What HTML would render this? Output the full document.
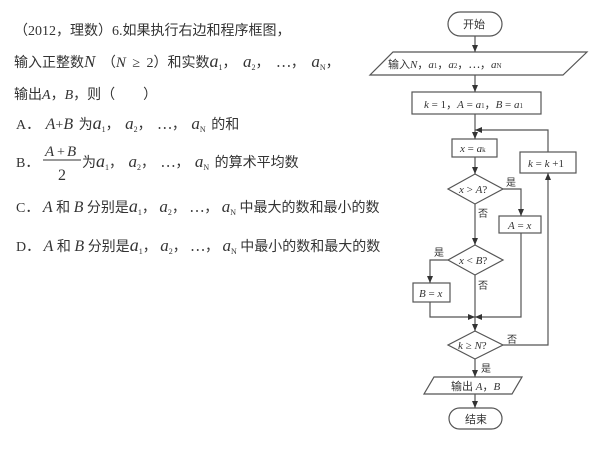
<!DOCTYPE html>
<html><head><meta charset="utf-8"><style>
html,body{margin:0;padding:0;background:#fff;}
svg{display:block;}
text{font-family:"Liberation Serif","Noto Serif CJK SC","Noto Sans CJK SC",serif;fill:#333;}
.c{font-family:"Liberation Serif","Noto Sans CJK SC",sans-serif;}
.i{font-style:italic;}
</style></head><body>
<svg width="600" height="450" viewBox="0 0 600 450" xmlns="http://www.w3.org/2000/svg">
<defs><marker id="a" markerWidth="8" markerHeight="8" refX="7" refY="4" orient="auto" markerUnits="userSpaceOnUse"><path d="M0,1 L7,4 L0,7 Z" fill="#333"/></marker></defs>
<g font-size="14">
<text x="14" y="35" class="c">（2012，理数）6.如果执行右边和程序框图，</text>
<text x="14" y="67" class="c" word-spacing="3">输入正整数<tspan class="i" font-size="17">N</tspan>  （<tspan class="i" font-size="15">N</tspan> ≥ 2）和实数<tspan class="i" font-size="18">a</tspan><tspan font-size="8" dy="3">1</tspan><tspan dy="-3">， </tspan><tspan class="i" font-size="17">a</tspan><tspan font-size="8" dy="3">2</tspan><tspan dy="-3">， ⋯， </tspan><tspan class="i" font-size="17">a</tspan><tspan font-size="8" dy="3">N</tspan><tspan dy="-3">，</tspan></text>
<text x="14" y="99" class="c">输出<tspan class="i">A</tspan>，<tspan class="i">B</tspan>，则（　　）</text>
<text x="16" y="129" class="c" word-spacing="2">A．  <tspan class="i" font-size="16">A</tspan>+<tspan class="i" font-size="16">B</tspan> 为<tspan class="i" font-size="18">a</tspan><tspan font-size="8" dy="3">1</tspan><tspan dy="-3">， </tspan><tspan class="i" font-size="17">a</tspan><tspan font-size="8" dy="3">2</tspan><tspan dy="-3">， ⋯， </tspan><tspan class="i" font-size="17">a</tspan><tspan font-size="8" dy="3">N</tspan><tspan dy="-3"> 的和</tspan></text>
<text x="16" y="167" class="c">B．</text>
<text x="45" y="156" class="i" font-size="15">A</text><text x="57" y="156">+</text><text x="67" y="156" class="i" font-size="15">B</text>
<line x1="43" y1="160" x2="81" y2="160" stroke="#333" stroke-width="1"/>
<text x="58" y="180" font-size="16">2</text>
<text x="82" y="167" class="c" word-spacing="2">为<tspan class="i" font-size="18">a</tspan><tspan font-size="8" dy="3">1</tspan><tspan dy="-3">， </tspan><tspan class="i" font-size="17">a</tspan><tspan font-size="8" dy="3">2</tspan><tspan dy="-3">， ⋯， </tspan><tspan class="i" font-size="17">a</tspan><tspan font-size="8" dy="3">N</tspan><tspan dy="-3"> 的算术平均数</tspan></text>
<text x="16" y="212" class="c">C．  <tspan class="i" font-size="16">A</tspan> 和 <tspan class="i" font-size="16">B</tspan> 分别是<tspan class="i" font-size="18">a</tspan><tspan font-size="8" dy="3">1</tspan><tspan dy="-3">， </tspan><tspan class="i" font-size="17">a</tspan><tspan font-size="8" dy="3">2</tspan><tspan dy="-3">， ⋯， </tspan><tspan class="i" font-size="17">a</tspan><tspan font-size="8" dy="3">N</tspan><tspan dy="-3"> 中最大的数和最小的数</tspan></text>
<text x="16" y="251" class="c">D．  <tspan class="i" font-size="16">A</tspan> 和 <tspan class="i" font-size="16">B</tspan> 分别是<tspan class="i" font-size="18">a</tspan><tspan font-size="8" dy="3">1</tspan><tspan dy="-3">， </tspan><tspan class="i" font-size="17">a</tspan><tspan font-size="8" dy="3">2</tspan><tspan dy="-3">， ⋯， </tspan><tspan class="i" font-size="17">a</tspan><tspan font-size="8" dy="3">N</tspan><tspan dy="-3"> 中最小的数和最大的数</tspan></text>
</g>
<g stroke="#555" stroke-width="1.2" fill="none">
<rect x="448" y="12" width="54" height="24" rx="12"/>
<polygon points="393,52 587,52 563,75 370,75"/>
<rect x="412" y="92" width="129" height="22"/>
<rect x="452" y="139" width="45" height="18"/>
<rect x="520" y="152" width="56" height="21"/>
<polygon points="475,174 503,189 475,204 448,189"/>
<rect x="499" y="216" width="42" height="17"/>
<polygon points="475,245 503,260 475,275 448,260"/>
<rect x="413" y="283" width="37" height="19"/>
<polygon points="475,331 503,345 475,359 448,345"/>
<polygon points="434,377 522,377 512,394 424,394"/>
<rect x="449" y="408" width="53" height="21" rx="10.5"/>
<line x1="475" y1="36" x2="475" y2="52" marker-end="url(#a)"/>
<line x1="475" y1="75" x2="475" y2="92" marker-end="url(#a)"/>
<line x1="475" y1="114" x2="475" y2="139" marker-end="url(#a)"/>
<line x1="475" y1="157" x2="475" y2="174" marker-end="url(#a)"/>
<line x1="475" y1="204" x2="475" y2="245" marker-end="url(#a)"/>
<line x1="475" y1="275" x2="475" y2="331" marker-end="url(#a)"/>
<line x1="475" y1="359" x2="475" y2="377" marker-end="url(#a)"/>
<line x1="475" y1="394" x2="475" y2="408" marker-end="url(#a)"/>
<polyline points="548,152 548,130 475,130" marker-end="url(#a)"/>
<polyline points="503,189 521,189 521,216" marker-end="url(#a)"/>
<polyline points="503,345 548,345 548,173" marker-end="url(#a)"/>
<polyline points="448,260 430,260 430,283" marker-end="url(#a)"/>
<polyline points="430,302 430,317 475,317" marker-end="url(#a)"/>
<polyline points="521,233 521,317 475,317" marker-end="url(#a)"/>
</g>
<g font-size="11">
<text x="463" y="28" class="c">开始</text>
<text x="388" y="68" class="c">输入<tspan class="i">N</tspan>，<tspan class="i">a</tspan><tspan font-size="7">1</tspan>，<tspan class="i">a</tspan><tspan font-size="7">2</tspan>，⋯，<tspan class="i">a</tspan><tspan font-size="7">N</tspan></text>
<text x="424" y="108" class="c"><tspan class="i">k</tspan> = 1，<tspan class="i">A</tspan> = <tspan class="i">a</tspan><tspan font-size="7">1</tspan>，<tspan class="i">B</tspan> = <tspan class="i">a</tspan><tspan font-size="7">1</tspan></text>
<text x="460" y="152"><tspan class="i">x</tspan> = <tspan class="i">a</tspan><tspan font-size="7">k</tspan></text>
<text x="528" y="167"><tspan class="i">k</tspan> = <tspan class="i">k</tspan> +1</text>
<text x="459" y="193"><tspan class="i">x</tspan> &gt; <tspan class="i">A</tspan>?</text>
<text x="506" y="186" class="c" font-size="10">是</text>
<text x="478" y="217" class="c" font-size="10">否</text>
<text x="508" y="229"><tspan class="i">A</tspan> = <tspan class="i">x</tspan></text>
<text x="459" y="264"><tspan class="i">x</tspan> &lt; <tspan class="i">B</tspan>?</text>
<text x="434" y="256" class="c" font-size="10">是</text>
<text x="478" y="289" class="c" font-size="10">否</text>
<text x="419" y="297"><tspan class="i">B</tspan> = <tspan class="i">x</tspan></text>
<text x="458" y="349"><tspan class="i">k</tspan> ≥ <tspan class="i">N</tspan>?</text>
<text x="507" y="343" class="c" font-size="10">否</text>
<text x="481" y="372" class="c" font-size="10">是</text>
<text x="451" y="390" class="c">输出 <tspan class="i">A</tspan>，<tspan class="i">B</tspan></text>
<text x="465" y="423" class="c">结束</text>
</g>
</svg>
</body></html>
